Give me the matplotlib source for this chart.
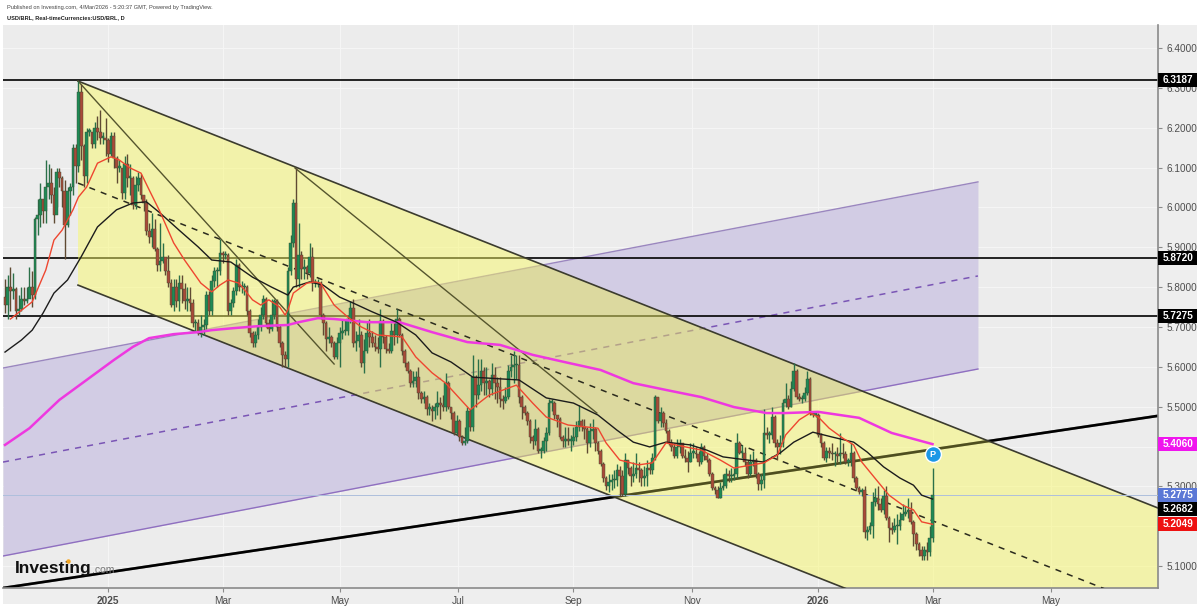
import matplotlib
matplotlib.use('Agg')
import matplotlib.pyplot as plt
from matplotlib.lines import Line2D
from matplotlib.patches import Polygon, Rectangle

plt.rcParams['font.family'] = ['Liberation Sans', 'DejaVu Sans']

# daily candles, USD/BRL (open is the previous close)
first_open = 5.775
closes = [
    5.755, 5.80, 5.79, 5.795, 5.74, 5.745, 5.77, 5.765, 5.77, 5.80,
    5.78, 5.97, 5.98, 6.02, 5.99, 6.05, 6.06, 6.03, 5.98, 6.09,
    6.075, 6.04, 5.955, 6.04, 6.05, 6.15, 6.105, 6.29, 6.155, 6.08,
    6.19, 6.19, 6.16, 6.20, 6.19, 6.175, 6.175, 6.17, 6.135, 6.18,
    6.125, 6.10, 6.10, 6.035, 6.11, 6.075, 6.075, 6.005, 6.055, 6.075,
    6.03, 6.01, 5.94, 5.925, 5.945, 5.895, 5.855, 5.865, 5.875, 5.84,
    5.81, 5.755, 5.80, 5.765, 5.81, 5.795, 5.765, 5.77, 5.76, 5.71,
    5.71, 5.685, 5.70, 5.705, 5.78, 5.74, 5.815, 5.84, 5.84, 5.885,
    5.88, 5.88, 5.74, 5.76, 5.79, 5.855, 5.80, 5.80, 5.80, 5.74,
    5.685, 5.66, 5.68, 5.70, 5.73, 5.77, 5.71, 5.695, 5.73, 5.765,
    5.70, 5.66, 5.63, 5.62, 5.84, 5.91, 6.01, 5.82, 5.88, 5.845,
    5.85, 5.835, 5.875, 5.81, 5.81, 5.81, 5.73, 5.71, 5.67, 5.675,
    5.66, 5.625, 5.66, 5.685, 5.69, 5.69, 5.72, 5.747, 5.66, 5.665,
    5.68, 5.61, 5.64, 5.685, 5.675, 5.66, 5.65, 5.645, 5.715, 5.675,
    5.645, 5.64, 5.69, 5.68, 5.72, 5.68, 5.64, 5.61, 5.59, 5.56,
    5.565, 5.575, 5.535, 5.52, 5.525, 5.495, 5.495, 5.49, 5.50, 5.51,
    5.505, 5.50, 5.56, 5.50, 5.485, 5.435, 5.465, 5.425, 5.41, 5.415,
    5.49, 5.45, 5.575, 5.53, 5.555, 5.59, 5.56, 5.565, 5.545, 5.58,
    5.56, 5.55, 5.52, 5.515, 5.525, 5.59, 5.60, 5.605, 5.605, 5.525,
    5.50, 5.485, 5.465, 5.425, 5.415, 5.445, 5.39, 5.39, 5.415, 5.435,
    5.51, 5.51, 5.48, 5.47, 5.425, 5.415, 5.42, 5.415, 5.415, 5.425,
    5.45, 5.465, 5.45, 5.445, 5.41, 5.44, 5.445, 5.41, 5.39, 5.355,
    5.32, 5.30, 5.31, 5.315, 5.315, 5.34, 5.325, 5.28, 5.365, 5.345,
    5.325, 5.33, 5.345, 5.34, 5.32, 5.325, 5.345, 5.34, 5.37, 5.525,
    5.465, 5.485, 5.46, 5.44, 5.41, 5.40, 5.375, 5.40, 5.41, 5.375,
    5.37, 5.36, 5.385, 5.385, 5.38, 5.36, 5.40, 5.375, 5.365, 5.33,
    5.295, 5.29, 5.27, 5.295, 5.30, 5.33, 5.325, 5.325, 5.33, 5.41,
    5.385, 5.385, 5.36, 5.33, 5.36, 5.365, 5.33, 5.305, 5.315, 5.435,
    5.43, 5.43, 5.475, 5.41, 5.40, 5.41, 5.51, 5.52, 5.50, 5.545,
    5.59, 5.525, 5.52, 5.52, 5.535, 5.57, 5.485, 5.48, 5.48, 5.43,
    5.41, 5.37, 5.39, 5.385, 5.38, 5.38, 5.375, 5.385, 5.38, 5.36,
    5.365, 5.385, 5.32, 5.295, 5.285, 5.29, 5.185, 5.19, 5.20, 5.26,
    5.27, 5.255, 5.24, 5.275, 5.22, 5.195, 5.19, 5.20, 5.20, 5.215,
    5.23, 5.235, 5.24, 5.21, 5.18, 5.155, 5.14, 5.125, 5.14, 5.135,
    5.17, 5.2775,
]
highs = [
    5.82, 5.83, 5.85, 5.835, 5.80, 5.78, 5.80, 5.80, 5.80, 5.85,
    5.84, 5.975, 6.02, 6.06, 6.02, 6.12, 6.11, 6.10, 6.05, 6.10,
    6.10, 6.08, 6.07, 6.05, 6.06, 6.16, 6.16, 6.318, 6.31, 6.16,
    6.20, 6.20, 6.19, 6.215, 6.23, 6.245, 6.19, 6.225, 6.175, 6.19,
    6.19, 6.13, 6.12, 6.10, 6.13, 6.135, 6.11, 6.08, 6.08, 6.09,
    6.085, 6.03, 6.02, 5.96, 5.985, 5.97, 5.90, 5.96, 5.91, 5.875,
    5.88, 5.82, 5.82, 5.82, 5.83, 5.83, 5.81, 5.80, 5.80, 5.77,
    5.72, 5.72, 5.73, 5.72, 5.79, 5.79, 5.83, 5.85, 5.85, 5.92,
    5.89, 5.89, 5.885, 5.77, 5.80, 5.87, 5.86, 5.815, 5.81, 5.805,
    5.745, 5.69, 5.69, 5.72, 5.75, 5.78, 5.775, 5.72, 5.77, 5.77,
    5.77, 5.705, 5.665, 5.64, 5.85, 5.93, 6.02, 6.10, 5.96, 5.89,
    5.87, 5.855, 5.91, 5.90, 5.82, 5.82, 5.815, 5.735, 5.715, 5.70,
    5.68, 5.665, 5.675, 5.70, 5.72, 5.72, 5.73, 5.765, 5.77, 5.69,
    5.72, 5.69, 5.67, 5.715, 5.72, 5.69, 5.68, 5.675, 5.745, 5.72,
    5.68, 5.66, 5.71, 5.71, 5.745, 5.725, 5.685, 5.645, 5.615, 5.595,
    5.59, 5.59, 5.60, 5.54, 5.54, 5.53, 5.51, 5.505, 5.51, 5.54,
    5.525, 5.53, 5.585, 5.565, 5.50, 5.49, 5.48, 5.47, 5.43, 5.45,
    5.50, 5.495, 5.63, 5.58, 5.62, 5.62, 5.60, 5.60, 5.57, 5.61,
    5.60, 5.575, 5.575, 5.53, 5.55, 5.605, 5.63, 5.64, 5.63, 5.63,
    5.53, 5.505, 5.49, 5.47, 5.43, 5.47, 5.45, 5.40, 5.425, 5.45,
    5.52, 5.52, 5.515, 5.48, 5.475, 5.43, 5.45, 5.45, 5.43, 5.45,
    5.465, 5.505, 5.47, 5.47, 5.45, 5.46, 5.47, 5.45, 5.415, 5.395,
    5.36, 5.325, 5.33, 5.33, 5.34, 5.355, 5.35, 5.34, 5.385, 5.365,
    5.35, 5.36, 5.385, 5.36, 5.345, 5.35, 5.365, 5.36, 5.385, 5.53,
    5.525, 5.50, 5.49, 5.47, 5.445, 5.42, 5.41, 5.42, 5.42, 5.41,
    5.395, 5.39, 5.41, 5.41, 5.40, 5.39, 5.41, 5.405, 5.385, 5.37,
    5.335, 5.30, 5.30, 5.31, 5.33, 5.345, 5.34, 5.345, 5.345, 5.435,
    5.415, 5.405, 5.40, 5.365, 5.38, 5.39, 5.37, 5.335, 5.33, 5.495,
    5.45, 5.44, 5.50, 5.48, 5.42, 5.43, 5.52, 5.56, 5.53, 5.565,
    5.61, 5.595, 5.535, 5.53, 5.55, 5.59, 5.575, 5.49, 5.485, 5.485,
    5.435, 5.415, 5.40, 5.40, 5.41, 5.39, 5.40, 5.435, 5.41, 5.39,
    5.37, 5.41, 5.39, 5.325, 5.30, 5.295, 5.30, 5.20, 5.21, 5.285,
    5.295, 5.30, 5.27, 5.29, 5.30, 5.225, 5.21, 5.22, 5.23, 5.235,
    5.255, 5.25, 5.27, 5.26, 5.215, 5.185, 5.16, 5.15, 5.15, 5.16,
    5.20, 5.345,
]
lows = [
    5.735, 5.72, 5.74, 5.77, 5.72, 5.73, 5.74, 5.755, 5.76, 5.78,
    5.75, 5.77, 5.93, 5.95, 5.96, 5.96, 6.02, 6.01, 5.96, 6.00,
    6.05, 6.00, 5.87, 5.95, 5.98, 6.03, 6.06, 6.09, 6.12, 6.05,
    6.06, 6.18, 6.15, 6.15, 6.17, 6.16, 6.16, 6.13, 6.115, 6.13,
    6.10, 6.06, 6.09, 6.02, 6.02, 6.05, 6.03, 5.995, 5.995, 6.04,
    6.02, 5.99, 5.93, 5.91, 5.90, 5.89, 5.84, 5.84, 5.86, 5.83,
    5.80, 5.75, 5.74, 5.75, 5.74, 5.76, 5.745, 5.74, 5.74, 5.70,
    5.69, 5.68, 5.675, 5.68, 5.695, 5.73, 5.73, 5.80, 5.80, 5.83,
    5.86, 5.87, 5.73, 5.73, 5.75, 5.78, 5.79, 5.785, 5.78, 5.73,
    5.675, 5.65, 5.65, 5.67, 5.69, 5.72, 5.70, 5.685, 5.69, 5.72,
    5.69, 5.65, 5.60, 5.60, 5.60, 5.83, 5.90, 5.80, 5.80, 5.82,
    5.82, 5.82, 5.825, 5.79, 5.80, 5.80, 5.72, 5.68, 5.64, 5.66,
    5.65, 5.62, 5.62, 5.60, 5.67, 5.68, 5.68, 5.71, 5.65, 5.64,
    5.65, 5.60, 5.585, 5.635, 5.65, 5.65, 5.64, 5.635, 5.60, 5.66,
    5.635, 5.635, 5.635, 5.655, 5.66, 5.675, 5.63, 5.60, 5.585, 5.55,
    5.55, 5.55, 5.52, 5.51, 5.51, 5.48, 5.48, 5.465, 5.47, 5.48,
    5.47, 5.49, 5.49, 5.495, 5.47, 5.43, 5.43, 5.415, 5.405, 5.405,
    5.41, 5.44, 5.44, 5.50, 5.52, 5.54, 5.53, 5.53, 5.525, 5.53,
    5.52, 5.51, 5.50, 5.495, 5.51, 5.52, 5.575, 5.56, 5.57, 5.51,
    5.47, 5.48, 5.455, 5.41, 5.395, 5.405, 5.385, 5.37, 5.385, 5.39,
    5.43, 5.49, 5.47, 5.45, 5.42, 5.40, 5.40, 5.405, 5.39, 5.405,
    5.415, 5.44, 5.44, 5.42, 5.385, 5.40, 5.42, 5.39, 5.38, 5.35,
    5.31, 5.29, 5.285, 5.29, 5.295, 5.30, 5.275, 5.275, 5.275, 5.33,
    5.30, 5.31, 5.32, 5.31, 5.30, 5.30, 5.30, 5.33, 5.33, 5.365,
    5.46, 5.45, 5.45, 5.435, 5.405, 5.39, 5.37, 5.37, 5.385, 5.37,
    5.36, 5.335, 5.36, 5.37, 5.37, 5.35, 5.355, 5.365, 5.36, 5.325,
    5.29, 5.28, 5.27, 5.27, 5.29, 5.295, 5.31, 5.31, 5.315, 5.32,
    5.38, 5.37, 5.35, 5.32, 5.325, 5.35, 5.32, 5.29, 5.29, 5.295,
    5.42, 5.41, 5.42, 5.40, 5.365, 5.38, 5.40, 5.50, 5.495, 5.50,
    5.54, 5.52, 5.515, 5.51, 5.515, 5.53, 5.48, 5.475, 5.475, 5.425,
    5.40, 5.365, 5.36, 5.37, 5.365, 5.35, 5.36, 5.355, 5.37, 5.355,
    5.35, 5.35, 5.31, 5.29, 5.28, 5.275, 5.17, 5.165, 5.18, 5.17,
    5.25, 5.24, 5.235, 5.23, 5.215, 5.16, 5.18, 5.185, 5.155, 5.19,
    5.215, 5.225, 5.22, 5.205, 5.15, 5.14, 5.125, 5.115, 5.115, 5.115,
    5.125, 5.16,
]

# moving averages: (bar, price)
red_bars = [2, 10, 15, 18, 21, 25, 27, 30, 34, 39, 42, 46, 50, 53, 57, 62, 66, 72, 76, 79, 82, 86, 89, 91, 94, 97,
            101, 103, 104, 106, 111, 114, 116, 121, 126, 131, 137, 146, 151, 157, 162, 171, 178, 188, 194, 199, 207,
            218, 221, 226, 233, 238, 243, 256, 263, 268, 279, 284, 287, 292, 296, 299, 303, 308, 312, 315, 321, 325,
            330, 334, 337, 341]
red_vals = [5.720, 5.763, 5.843, 5.918, 5.943, 5.994, 6.026, 6.051, 6.111, 6.127, 6.119, 6.099, 6.086, 6.044, 5.989,
            5.911, 5.868, 5.810, 5.788, 5.805, 5.818, 5.810, 5.785, 5.768, 5.755, 5.768, 5.750, 5.730, 5.743, 5.785,
            5.810, 5.813, 5.810, 5.755, 5.725, 5.700, 5.680, 5.675, 5.625, 5.585, 5.559, 5.492, 5.529, 5.554, 5.509,
            5.474, 5.454, 5.446, 5.409, 5.366, 5.354, 5.359, 5.409, 5.391, 5.366, 5.346, 5.359, 5.379, 5.429, 5.467,
            5.484, 5.474, 5.446, 5.421, 5.404, 5.361, 5.311, 5.278, 5.253, 5.241, 5.211, 5.2049]
black_bars = [0, 6, 10, 14, 18, 23, 28, 34, 41, 47, 52, 57, 64, 71, 76, 83, 91, 98, 104, 106, 112, 117, 123, 128, 135,
              144, 151, 157, 164, 172, 189, 199, 209, 218, 225, 231, 237, 243, 252, 258, 264, 273, 279, 285, 290, 297,
              304, 312, 317, 323, 329, 334, 337, 341]
black_vals = [5.637, 5.667, 5.692, 5.735, 5.785, 5.818, 5.876, 5.951, 5.994, 6.011, 6.014, 5.986, 5.943, 5.901, 5.868,
              5.863, 5.825, 5.800, 5.780, 5.800, 5.813, 5.805, 5.775, 5.760, 5.738, 5.712, 5.680, 5.635, 5.612, 5.574,
              5.567, 5.522, 5.509, 5.479, 5.441, 5.411, 5.399, 5.411, 5.404, 5.391, 5.374, 5.366, 5.361, 5.384, 5.411,
              5.436, 5.424, 5.411, 5.386, 5.349, 5.321, 5.303, 5.278, 5.2682]
pink_bars = [0, 9, 20, 31, 40, 47, 53, 62, 71, 76, 84, 93, 104, 108, 115, 121, 133, 145, 157, 170, 182, 194, 207, 219,
             231, 243, 256, 268, 280, 287, 299, 314, 326, 341]
pink_vals = [5.404, 5.446, 5.517, 5.572, 5.617, 5.650, 5.672, 5.682, 5.687, 5.692, 5.697, 5.702, 5.705, 5.712, 5.722,
             5.720, 5.712, 5.712, 5.687, 5.662, 5.655, 5.630, 5.610, 5.592, 5.559, 5.542, 5.524, 5.499, 5.484, 5.484,
             5.487, 5.472, 5.434, 5.406]

# drawn tools, (bar, price) at both ends
x_left, x_right = -0.735, 423.9
yellow_x = [26.84, x_right]
yellow_top = [6.317, 5.2457]
yellow_mid = [6.061, 4.990]
yellow_bot = [5.805, 4.734]
purple_x = [x_left, 357.7]
purple_top = [5.597, 6.064]
purple_mid = [5.361, 5.828]
purple_bot = [5.1253, 5.5945]
fan_a_x, fan_a_y = [26.84, 121], [6.317, 5.607]
fan_b_x, fan_b_y = [106.6, 217.6], [6.099, 5.484]
trend_x, trend_y = [x_left, x_right], [5.045, 5.477]
levels = [6.3187, 5.8720, 5.7275]

# 5.4000 and 5.2000 are not shown: the price badges sit on them
price_ticks = [6.4, 6.3, 6.2, 6.1, 6.0, 5.9, 5.8, 5.7, 5.6, 5.5, 5.3, 5.1]
grid_only = [5.4, 5.2]
date_ticks = [38, 80, 123, 166.5, 209, 252.6, 299, 341, 384.6]
date_labels = ['2025', 'Mar', 'May', 'Jul', 'Sep', 'Nov', '2026', 'Mar', 'May']
# scale labels: text, colour and where the scale shows them (stacked ones get pushed apart)
badge_text = ['6.3187', '5.8720', '5.7275', '5.4060', '5.2775', '5.2682', '5.2049']
badge_col = ['black', 'black', 'black', '#f015ee', '#5b78d6', 'black', '#ee1111']
badge_pos = [6.3187, 5.8720, 5.7275, 5.4060, 5.2775, 5.2425, 5.2049]

W, H = 1200, 607
fig = plt.figure(figsize=(W / 100, H / 100), dpi=100, facecolor='white')

# grey panel behind plot and scales
fig.patches.append(Rectangle((3 / W, 1 - 604 / H), 1194 / W, 579 / H, transform=fig.transFigure,
                             facecolor='#eeeeee', edgecolor='none', zorder=-5))

ax = fig.add_axes([3 / W, 1 - 588 / H, 1155 / W, 563 / H], facecolor='#ececec')
ax.set_xlim(x_left, x_right)
ax.set_ylim(5.0450, 6.4577)
for s in ['top', 'left']:
    ax.spines[s].set_visible(False)
for s in ['right', 'bottom']:
    ax.spines[s].set_color('#8a8a8a')
    ax.spines[s].set_linewidth(1.2)

ax.yaxis.tick_right()
ax.set_yticks(price_ticks)
ax.set_yticklabels(['%.4f' % p for p in price_ticks])
ax.set_xticks(date_ticks)
ax.set_xticklabels(date_labels)
ax.tick_params(axis='y', length=3, color='#8a8a8a', labelsize=7.2, labelcolor='#4d4d4d', pad=3)
ax.tick_params(axis='x', length=3, color='#8a8a8a', labelsize=7.2, labelcolor='#4d4d4d', pad=3)
for lab in ax.get_xticklabels():
    if lab.get_text() in ('2025', '2026'):
        lab.set_fontweight('bold')
ax.grid(True, color='#f6f6f6', linewidth=0.7, zorder=0)
for g in grid_only:
    ax.axhline(g, color='#f6f6f6', lw=0.7, zorder=0.5)
ax.set_axisbelow(True)

# purple channel, levels and trend sit under the see-through yellow channel
ax.fill_between(purple_x, purple_bot, purple_top, color='#d2cce4', linewidth=0, zorder=1)
ax.plot(purple_x, purple_top, color='#9a86bf', lw=1, zorder=1.1)
ax.plot(purple_x, purple_bot, color='#8f6fc0', lw=1, zorder=1.1)
ax.plot(purple_x, purple_mid, color='#7a55b5', lw=1.1, ls=(0, (4, 4)), zorder=1.1)
for lv in levels:
    ax.axhline(lv, color='black', lw=1.2, zorder=1.2)
ax.plot(trend_x, trend_y, color='black', lw=1.9, zorder=1.2)

ax.fill_between(yellow_x, yellow_bot, yellow_top, color='#f9f966', alpha=0.49, linewidth=0, zorder=2)
# overlap of the two channels is a bit darker than plain alpha gives
yellow_poly = Polygon([(yellow_x[0], yellow_top[0]), (yellow_x[1], yellow_top[1]),
                       (yellow_x[1], yellow_bot[1]), (yellow_x[0], yellow_bot[0])], transform=ax.transData)
overlap = ax.fill_between(purple_x, purple_bot, purple_top, color='#8a7f60', alpha=0.09, linewidth=0, zorder=2.1)
overlap.set_clip_path(yellow_poly)
ax.plot(trend_x, trend_y, color='black', lw=1.9, alpha=0.35, zorder=2.2)

ax.plot(yellow_x, yellow_top, color='#3b3b2e', lw=1.2, zorder=3)
ax.plot(yellow_x, yellow_bot, color='#3b3b2e', lw=1.2, zorder=3)
ax.plot(yellow_x, yellow_mid, color='#2b2b1e', lw=1.1, ls=(0, (4, 4)), zorder=3)
ax.plot(fan_a_x, fan_a_y, color='#55552e', lw=1, zorder=3)
ax.plot(fan_b_x, fan_b_y, color='#55552e', lw=1, zorder=3)
ax.axhline(5.2775, color='#aebfdc', lw=0.7, zorder=3)

# candles
bars = list(range(len(closes)))
opens = [first_open] + closes[:-1]
up = [c >= o for o, c in zip(opens, closes)]
body_col = ['#1f8a55' if u else '#a94a38' for u in up]
wick_col = ['#2b7049' if u else '#5f4a33' for u in up]
ax.vlines(bars, lows, highs, colors=wick_col, linewidth=1.0, zorder=4)
ax.bar(bars, [max(abs(c - o), 0.003) for o, c in zip(opens, closes)], bottom=[min(o, c) for o, c in zip(opens, closes)],
       width=1.0, color=body_col, edgecolor='#3a4a35', linewidth=0.3, zorder=4.1)

# moving averages
ax.plot(pink_bars, pink_vals, color='#ee38e0', lw=1.8, zorder=5)
ax.plot(black_bars, black_vals, color='#1c1c1c', lw=1.0, zorder=5.1)
ax.plot(red_bars, red_vals, color='#ee4630', lw=1.0, zorder=5.2)

# "P" marker above the last bar
ax.scatter([341], [5.381], s=130, color='#1b98e6', edgecolor='white', linewidth=1, zorder=6)
ax.text(341, 5.381, 'P', color='white', fontsize=6.5, fontweight='bold', ha='center', va='center', zorder=7)

# price badges on the scale
trans = ax.get_yaxis_transform()
for pos, txt, col in zip(badge_pos, badge_text, badge_col):
    ax.add_patch(Rectangle((1.0, pos - 0.0176), 39 / 1155, 0.0352, transform=trans, facecolor=col, edgecolor='none',
                           clip_on=False, zorder=10))
    ax.text(1.0 + 20 / 1155, pos, txt, transform=trans, color='white', fontsize=7.2, fontweight='bold', ha='center',
            va='center', clip_on=False, zorder=11)

# header and logo
fig.text(7 / W, 1 - 7 / H, 'Published on Investing.com, 4/Mar/2026 - 5:20:37 GMT, Powered by TradingView.',
         fontsize=4.1, color='#444444', va='center')
fig.text(7 / W, 1 - 18 / H, 'USD/BRL, Real-timeCurrencies:USD/BRL, D', fontsize=4.1, fontweight='bold',
         color='#222222', va='center')
fig.text(15 / W, 1 - 568 / H, 'Investing', fontsize=12.6, fontweight='bold', color='#111111', va='center', zorder=20)
fig.text(92 / W, 1 - 570 / H, '.com', fontsize=7.5, color='#777777', va='center', zorder=20)
fig.add_artist(Line2D([68 / W], [1 - 561 / H], marker='o', ms=2.2, color='#f5a623', transform=fig.transFigure, zorder=21))

fig.savefig('out.png', dpi=100)
